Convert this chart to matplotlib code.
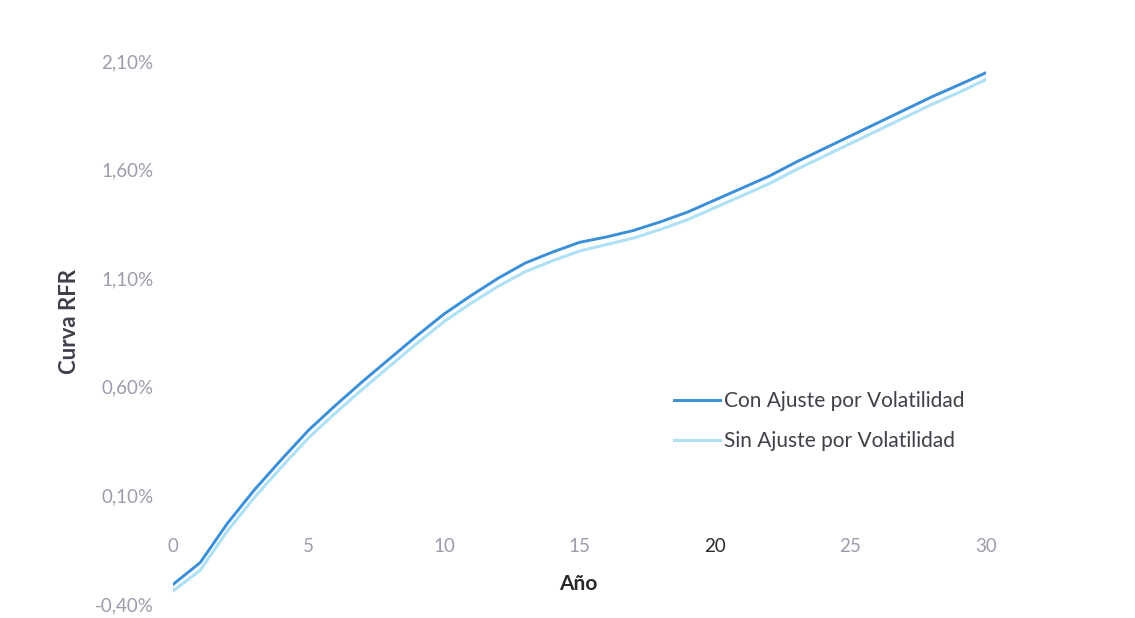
import matplotlib
matplotlib.use("Agg")
import matplotlib.pyplot as plt
from matplotlib.ticker import FuncFormatter
import numpy as np

years = list(range(0, 31))
con_ajuste = [-0.31, -0.21, -0.03, 0.125, 0.265, 0.40, 0.515, 0.625, 0.73, 0.835,
              0.935, 1.02, 1.10, 1.17, 1.22, 1.265, 1.29, 1.32, 1.36, 1.405,
              1.46, 1.515, 1.57, 1.635, 1.695, 1.755, 1.815, 1.875, 1.935, 1.99, 2.046]
sin_ajuste = [-0.34, -0.245, -0.065, 0.09, 0.23, 0.365, 0.48, 0.59, 0.695, 0.80,
              0.90, 0.985, 1.063, 1.13, 1.18, 1.225, 1.255, 1.285, 1.325, 1.37,
              1.425, 1.48, 1.535, 1.60, 1.66, 1.72, 1.78, 1.84, 1.90, 1.955, 2.015]
y_ticks = [-0.40, 0.10, 0.60, 1.10, 1.60, 2.10]
x_ticks = [0, 5, 10, 15, 20, 25, 30]
series_names = ["Con Ajuste por Volatilidad", "Sin Ajuste por Volatilidad"]

plt.rcParams['font.family'] = ['Lato', 'DejaVu Sans']

fig = plt.figure(figsize=(11.35, 6.18), dpi=100)
ax = fig.add_axes([173/1135, 1 - 604/618, (986-173)/1135, (604-61)/618])

ax.plot(years, sin_ajuste, color='#aee0f6', lw=2.2, label=series_names[1], zorder=2)
ax.plot(years, con_ajuste, color='#3b8fd9', lw=2.1, label=series_names[0], zorder=3)

ax.set_xlim(0, 30)
ax.set_ylim(-0.40, 2.10)
ax.set_yticks(y_ticks)
ax.yaxis.set_major_formatter(FuncFormatter(lambda v, p: f"{v:.2f}%".replace('.', ',')))
ax.set_xticks(x_ticks)

for s in ax.spines.values():
    s.set_visible(False)
ax.spines['bottom'].set_position(('data', 0))

tick_color = '#9c9cab'
ax.tick_params(axis='y', length=0, pad=14, labelsize=13.5, labelcolor=tick_color)
ax.tick_params(axis='x', length=0, pad=15, labelsize=13.5, labelcolor=tick_color)
for lab, val in zip(ax.get_xticklabels(), x_ticks):
    if val == 20:
        lab.set_color('#2a2a2a')

fig.text(69/1135, 1 - 321/618, "Curva RFR", rotation=90, ha='center', va='center',
         fontsize=16, fontweight='bold', color='#3f3f4a')
fig.text(578/1135, 1 - 584/618, "Año", ha='center', va='center',
         fontsize=15, fontweight='bold', color='#2a2a2a')

h, l = ax.get_legend_handles_labels()
leg = ax.legend(h[::-1], l[::-1], loc='upper left', bbox_to_anchor=((666-173)/813, (604-383)/543),
                frameon=False, fontsize=15, handlelength=2.2, handletextpad=0.2,
                labelspacing=0.95, borderaxespad=0)
for t in leg.get_texts():
    t.set_color('#404048')

fig.savefig("out.png", dpi=100, facecolor='white')
